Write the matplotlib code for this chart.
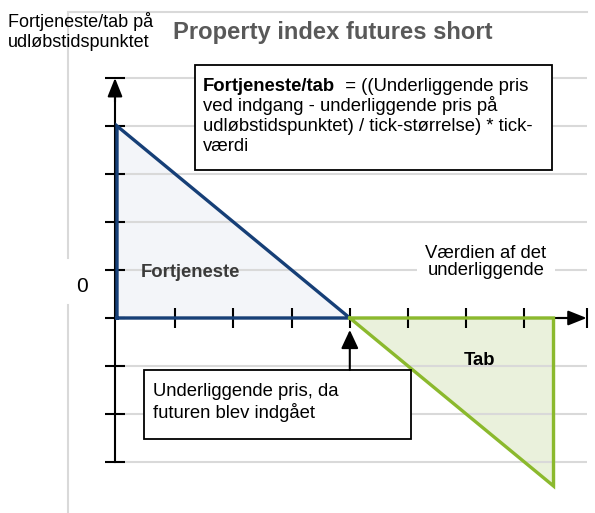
import matplotlib
matplotlib.use('Agg')
import matplotlib.pyplot as plt
from matplotlib.patches import Rectangle

plt.rcParams['font.family'] = ['Liberation Sans', 'DejaVu Sans']

# chart data (price units on x, profit/loss units on y)
price_ticks = [1, 2, 3, 4, 5, 6, 7]
pl_ticks = [-3, -2, -1, 0, 1, 2, 3, 4, 5]
grid_levels = [-3, -2, -1, 1, 2, 3, 4, 5]
entry_price = 4
profit_x = [0, 0, 4]
profit_y = [0, 4, 0]
loss_x = [4, 7.5, 7.5]
loss_y = [0, 0, -3.5]
x_axis_end = 8.07
y_axis_top = 5
y_axis_bottom = -3

title = 'Property index futures short'
ylabel_lines = ['Fortjeneste/tab på', 'udløbstidspunktet']
formula_bold = 'Fortjeneste/tab'
formula_lines = ['  = ((Underliggende pris',
                 'ved indgang - underliggende pris på',
                 'udløbstidspunktet) / tick-størrelse) * tick-',
                 'værdi']
entry_lines = ['Underliggende pris, da', 'futuren blev indgået']

# pixel layout helpers
X0, SX, Y0, SY = 117, 58.2, 318, 48
W, H = 595, 513


def px(xp, yp):
	return ((xp - X0) / SX, (Y0 - yp) / SY)


fig = plt.figure(figsize=(W / 100, H / 100), dpi=100)
ax = fig.add_axes([0, 0, 1, 1])
ax.set_axis_off()
ax.set_xlim(-X0 / SX, (W - X0) / SX)
ax.set_ylim((Y0 - H) / SY, Y0 / SY)

gray = '#D9D9D9'
blue = '#163F77'
green = '#8BB92D'

# frame
fx, _ = px(68, 0)
ax.plot([fx, x_axis_end], [px(0, 12)[1]] * 2, color=gray, lw=1.5, zorder=2)
ax.plot([fx, fx], [px(0, 12)[1], px(0, 258)[1]], color=gray, lw=1.5, zorder=2)
ax.plot([fx, fx], [px(0, 305)[1], px(0, H)[1]], color=gray, lw=1.5, zorder=2)

# grid
ax.hlines(grid_levels, 0, x_axis_end, color=gray, lw=1.5, zorder=2)

# areas
ax.fill(profit_x, profit_y, color='#F3F5F9', zorder=1)
ax.fill(loss_x, loss_y, color='#EAF1DC', zorder=1)

# axes
ax_x = px(115, 0)[0]
ax.plot([ax_x, ax_x], [y_axis_bottom, y_axis_top - 0.2], color='black', lw=1.5, zorder=3)
ax.annotate('', xy=(ax_x, y_axis_top), xytext=(ax_x, y_axis_top - 0.5),
	arrowprops=dict(arrowstyle='-|>,head_length=0.75,head_width=0.3', color='black',
		lw=1.5, shrinkA=0, shrinkB=0, mutation_scale=15), zorder=3)
ax.hlines(pl_ticks, ax_x - 0.18, ax_x + 0.18, color='black', lw=1.5, zorder=3)
ax.plot([ax_x, x_axis_end - 0.2], [0, 0], color='black', lw=1.5, zorder=3)
ax.annotate('', xy=(x_axis_end, 0), xytext=(x_axis_end - 0.5, 0),
	arrowprops=dict(arrowstyle='-|>,head_length=0.75,head_width=0.3', color='black',
		lw=1.5, shrinkA=0, shrinkB=0, mutation_scale=15), zorder=3)
ax.vlines(price_ticks + [x_axis_end], -0.2, 0.2, color='black', lw=1.5, zorder=3)

# payoff lines
ax.plot(profit_x + profit_x[:1], profit_y + profit_y[:1], color=blue, lw=2.4,
	solid_joinstyle='miter', zorder=4)
ax.plot(loss_x + loss_x[:1], loss_y + loss_y[:1], color=green, lw=2.4,
	solid_joinstyle='miter', zorder=4)

# texts
ax.text(*px(8, 27), ylabel_lines[0], fontsize=13, ha='left', va='baseline')
ax.text(*px(8, 47), ylabel_lines[1], fontsize=13, ha='left', va='baseline')
ax.text(*px(173, 39), title, fontsize=17.1, fontweight='bold', color='#595959',
	ha='left', va='baseline')
ax.text(*px(82, 287), '0', fontsize=15, ha='center', va='center')
ax.text(*px(141, 277), 'Fortjeneste', fontsize=13.3, fontweight='bold', color='#3A3A3A',
	ha='left', va='baseline', zorder=6)
ax.text(*px(480, 365), 'Tab', fontsize=13.3, fontweight='bold', ha='center',
	va='baseline', zorder=6)
ax.text(*px(486, 262), 'Værdien af det\nunderliggende', fontsize=13.3, ha='center',
	va='center', linespacing=1.05, zorder=6,
	bbox=dict(fc='white', ec='none', pad=6))

# formula box
bx0, by0 = px(195, 170)
bx1, by1 = px(552, 65)
ax.add_patch(Rectangle((bx0, by0), bx1 - bx0, by1 - by0, fc='white', ec='black',
	lw=1.3, zorder=5))
bold = ax.text(*px(203, 91), formula_bold, fontsize=13.3, fontweight='bold',
	ha='left', va='baseline', zorder=6)
ax.annotate(formula_lines[0], xy=(1, 0), xycoords=bold, fontsize=13.3,
	ha='left', va='bottom', zorder=6)
for i, line in enumerate(formula_lines[1:]):
	ax.text(*px(203, 111 + 20.2 * i), line, fontsize=13.3, ha='left',
		va='baseline', zorder=6)

# entry price box + arrow
ex0, ey0 = px(144, 439)
ex1, ey1 = px(411, 370)
ax.add_patch(Rectangle((ex0, ey0), ex1 - ex0, ey1 - ey0, fc='white', ec='black',
	lw=1.3, zorder=5))
for i, line in enumerate(entry_lines):
	ax.text(*px(153, 396 + 22 * i), line, fontsize=13.3, ha='left',
		va='baseline', zorder=6)
ax.annotate('', xy=(entry_price, px(0, 330)[1]), xytext=(entry_price, ey1),
	arrowprops=dict(arrowstyle='-|>,head_length=0.75,head_width=0.35', color='black',
		lw=1.5, shrinkA=0, shrinkB=0, mutation_scale=15), zorder=5)

fig.savefig('out.png', dpi=100)
